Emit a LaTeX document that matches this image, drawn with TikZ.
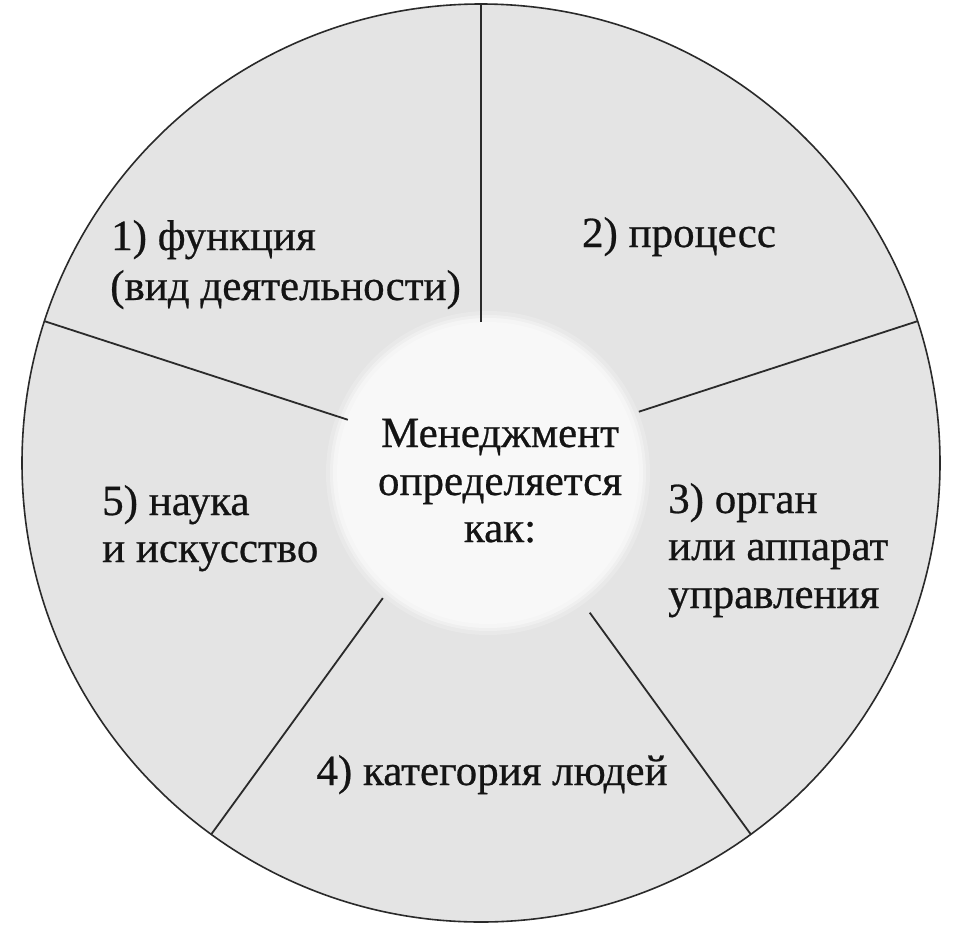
\documentclass[tikz,border=0pt]{standalone}
\usepackage{fontspec}
\setmainfont{Liberation Serif}[FakeBold=0.6]
\definecolor{sector}{HTML}{E4E4E4}
\definecolor{hub}{HTML}{F8F8F8}
\definecolor{ink}{HTML}{2A2A2A}
\begin{document}
\begin{tikzpicture}[x=1pt,y=-1pt,
  spoke/.style={draw=ink,line width=1.8pt},
  lbl/.style={anchor=base west,inner sep=0pt,font=\fontsize{43}{47}\selectfont,text=black!92},
  clbl/.style={anchor=base,inner sep=0pt,font=\fontsize{43}{47}\selectfont,text=black!92}]
\useasboundingbox (0,0) rectangle (958,932);
\fill[white] (0,0) rectangle (958,932);
\coordinate (O) at (481,463);
\coordinate (H) at (488,473);
% outer disc
\fill[sector] (O) circle[radius=459];
% soft white hub
\fill[hub,opacity=0.25] (H) circle[radius=162];
\fill[hub,opacity=0.45] (H) circle[radius=158];
\fill[hub,opacity=0.7] (H) circle[radius=155];
\fill[hub] (H) circle[radius=151];
% spokes
\path (O) ++(0,-141) coordinate (a1);
\path (O) ++(0,-459) coordinate (b1);
\path (O) ++(-18:166) coordinate (a2);
\path (O) ++(-18:459) coordinate (b2);
\path (O) ++(54:185) coordinate (a3);
\path (O) ++(54:459) coordinate (b3);
\path (O) ++(126:167) coordinate (a4);
\path (O) ++(126:459) coordinate (b4);
\path (O) ++(198:140) coordinate (a5);
\path (O) ++(198:459) coordinate (b5);
\draw[spoke] (a1) -- (b1);
\draw[spoke] (a2) -- (b2);
\draw[spoke] (a3) -- (b3);
\draw[spoke] (a4) -- (b4);
\draw[spoke] (a5) -- (b5);
\draw[draw=ink,line width=1.6pt] (O) circle[radius=459];
% labels
\node[clbl] (c1) at (500,447) {Менеджмент};
\node[clbl] (c2) at (500,495) {определяется};
\node[clbl] (c3) at (500,542) {как:};
\node[lbl] (t1a) at (111,250) {1) функция};
\node[lbl] (t1b) at (110,300) {(вид деятельности)};
\node[clbl] (t2) at (679,247) {2) процесс};
\node[lbl] (t3a) at (668,513) {3) орган};
\node[lbl] (t3b) at (668,560) {или аппарат};
\node[lbl] (t3c) at (668,608) {управления};
\node[clbl] (t4) at (492,785) {4) категория людей};
\node[lbl] (t5a) at (102,515) {5) наука};
\node[lbl] (t5b) at (102,562) {и искусство};
\end{tikzpicture}
\end{document}
